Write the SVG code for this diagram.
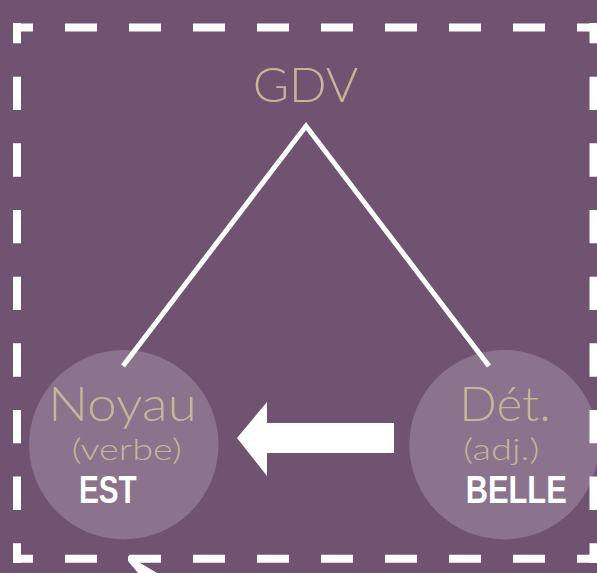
<svg xmlns="http://www.w3.org/2000/svg" width="597" height="573" viewBox="0 0 597 573">
<style>
.bg{fill:#6f5371}
.node{fill:#8b738d}
.t{font-family:Lato,"Liberation Sans",sans-serif;font-weight:300;fill:#c6b697}
.b{font-family:"Liberation Sans",Arial,sans-serif;font-weight:bold;fill:#ffffff}
.frame{stroke:#ffffff;stroke-width:8;fill:none;stroke-linecap:butt}
.conn{stroke:#ffffff;stroke-width:5;fill:none;stroke-linejoin:miter}
</style>
<rect class="bg" x="0" y="0" width="597" height="573"/>
<g id="node-gdv">
<text class="t" x="252.7" y="102.3" font-size="48" textLength="105.6" lengthAdjust="spacingAndGlyphs">GDV</text>
</g>
<g id="node-noyau">
<circle class="node" cx="123.8" cy="444.7" r="94.7"/>
<text class="t" x="48.3" y="421" font-size="48" textLength="148.4" lengthAdjust="spacingAndGlyphs">Noyau</text>
<text class="t" x="71.7" y="460" font-size="29" textLength="110" lengthAdjust="spacingAndGlyphs">(verbe)</text>
<text class="b" x="79" y="503.3" font-size="39" textLength="57.7" lengthAdjust="spacingAndGlyphs">EST</text>
</g>
<g id="node-det">
<circle class="node" cx="504" cy="444.7" r="94.7"/>
<text class="t" x="459.3" y="421" font-size="48" textLength="91.4" lengthAdjust="spacingAndGlyphs">Dét.</text>
<text class="t" x="463.3" y="460" font-size="29" textLength="76" lengthAdjust="spacingAndGlyphs">(adj.)</text>
<text class="b" x="465.7" y="503.3" font-size="39" textLength="101" lengthAdjust="spacingAndGlyphs">BELLE</text>
</g>
<g id="connectors">
<polyline class="conn" points="123,366 306,126 489,366"/>
<polygon fill="#ffffff" points="237,438 267,402 267,423 394,423 394,453 267,453 267,476"/>
<polygon fill="#ffffff" points="128,556 137,561 157,573 138,573 128,561"/>
</g>
<g id="frame">
<line class="frame" x1="13" y1="27.5" x2="598" y2="27.5" stroke-dasharray="32 32" stroke-dashoffset="12"/>
<line class="frame" x1="13" y1="558.8" x2="598" y2="558.8" stroke-dasharray="32 32" stroke-dashoffset="12"/>
<line class="frame" x1="17" y1="23" x2="17" y2="563" stroke-dasharray="33.33 33.33" stroke-dashoffset="13"/>
<line class="frame" x1="593.5" y1="23" x2="593.5" y2="563" stroke-dasharray="33.33 33.33" stroke-dashoffset="13"/>
</g>
</svg>
